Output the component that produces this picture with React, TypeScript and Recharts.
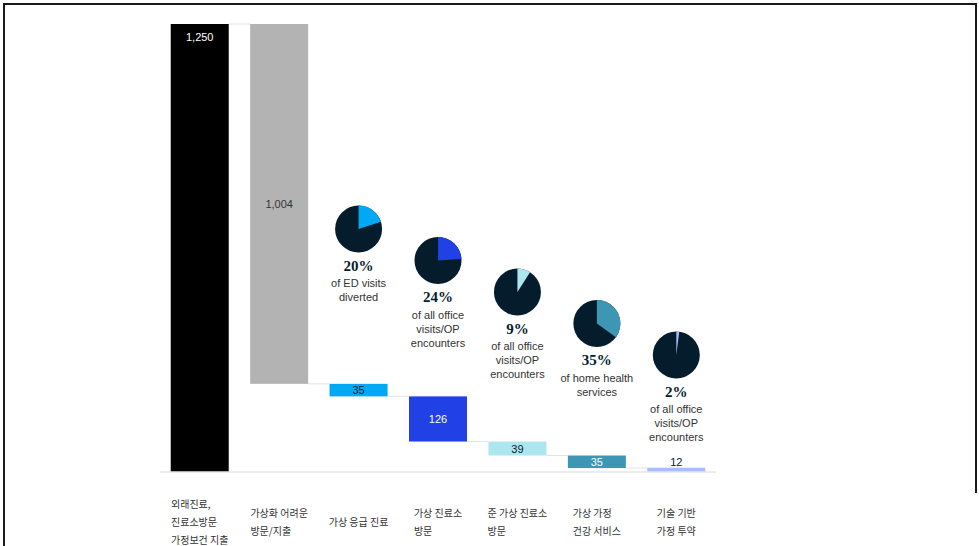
import React from 'react';
import { ComposedChart, Bar, XAxis, YAxis, Cell, LabelList, Sector } from 'recharts';

const categories: string[][] = [
  ['외래진료,', '진료소방문', '가정보건 지출'],
  ['가상화 어려운', '방문/지출'],
  ['가상 응급 진료'],
  ['가상 진료소', '방문'],
  ['준 가상 진료소', '방문'],
  ['가상 가정', '건강 서비스'],
  ['기술 기반', '가정 투약'],
];
const values = [1250, 1004, 35, 126, 39, 35, 12];
const barColors = ['#000000', '#b3b3b3', '#00a9f4', '#2140e6', '#aee6f0', '#3c96b4', '#aabdff'];
const labelColors = ['#ffffff', '#333333', '#051c2c', '#ffffff', '#051c2c', '#ffffff', '#051c2c'];
const pieShares: (number | null)[] = [null, null, 20, 24, 9, 35, 2];
const pieCaptions: string[][] = [
  [],
  [],
  ['of ED visits', 'diverted'],
  ['of all office', 'visits/OP', 'encounters'],
  ['of all office', 'visits/OP', 'encounters'],
  ['of home health', 'services'],
  ['of all office', 'visits/OP', 'encounters'],
];
const PIE_DARK = '#051c2c';

// build waterfall table
const data = (() => {
  const rows: any[] = [];
  let level = 0;
  values.forEach((v, i) => {
    let base = 0;
    if (i === 0) {
      base = 0;
      level = v;
    } else if (i === 1) {
      base = values[0] - v;
      level = base;
    } else {
      base = Math.max(0, level - v);
      level = base;
    }
    rows.push({ name: categories[i].join(' '), idx: i, base, value: v });
  });
  return rows;
})();

let measureCtx: CanvasRenderingContext2D | null = null;
const measure = (t: string, font: string) => {
  if (!measureCtx) {
    const c = document.createElement('canvas');
    measureCtx = c.getContext('2d');
  }
  if (!measureCtx) return t.length * 9;
  measureCtx.font = font;
  return measureCtx.measureText(t).width;
};

const TICK_FONT = '10px "Noto Sans CJK KR"';
const CategoryTick = (props: any) => {
  const { x, y, payload } = props;
  const lines = categories[payload.index] || [];
  const w = Math.max(...lines.map((l) => measure(l, TICK_FONT)));
  const lh = 18;
  const cy = y + 41;
  const startY = cy - ((lines.length - 1) * lh) / 2;
  return (
    <g>
      {lines.map((l, i) => (
        <text
          key={i}
          x={x - w / 2}
          y={startY + i * lh}
          textAnchor="start"
          dominantBaseline="central"
          fontSize={10}
          fontFamily='"Noto Sans CJK KR", sans-serif'
          fill="#333"
        >
          {l}
        </text>
      ))}
    </g>
  );
};

const BarShape = (props: any) => {
  const { x, y, width, height, index } = props;
  const last = index === values.length - 1;
  const lvl = index === 0 ? y : y + height;
  const gap = width * 0.37;
  return (
    <g>
      {!last && (
        <line x1={x + width} x2={x + width + gap} y1={lvl} y2={lvl} stroke="#e3e3e3" strokeWidth={1} />
      )}
      <rect x={x} y={y} width={width} height={height} fill={barColors[index]} />
    </g>
  );
};

const ValueLabel = (props: any) => {
  const { x, y, width, height, index, value } = props;
  const cx = x + width / 2;
  let ty = y + height / 2;
  if (index === 0) ty = y + 13;
  if (index === values.length - 1) ty = y - 6;
  return (
    <text
      x={cx}
      y={ty}
      textAnchor="middle"
      dominantBaseline="central"
      fontSize={11}
      fontFamily='"Liberation Sans", Arial, sans-serif'
      fill={labelColors[index]}
    >
      {Number(value).toLocaleString('en-US')}
    </text>
  );
};

const PieLabel = (props: any) => {
  const { x, width, index } = props;
  const share = pieShares[index];
  if (share == null) return null;
  const cx = x + width / 2;
  const cy = 229 + (index - 2) * 31.5;
  const r = 23.5;
  const caps = pieCaptions[index];
  return (
    <g>
      <circle cx={cx} cy={cy} r={r} fill={PIE_DARK} />
      <Sector
        cx={cx}
        cy={cy}
        innerRadius={0}
        outerRadius={r}
        startAngle={90}
        endAngle={90 - share * 3.6}
        fill={barColors[index]}
      />
      <text
        x={cx}
        y={cy + 36.5}
        textAnchor="middle"
        dominantBaseline="central"
        fontSize={15}
        fontWeight={700}
        fontFamily='"Liberation Serif", "DejaVu Serif", serif'
        fill="#051c2c"
      >
        {share}%
      </text>
      {caps.map((c, i) => (
        <text
          key={i}
          x={cx}
          y={cy + 54 + i * 14}
          textAnchor="middle"
          dominantBaseline="central"
          fontSize={11}
          fontFamily='"Liberation Sans", Arial, sans-serif'
          fill="#333"
        >
          {c}
        </text>
      ))}
    </g>
  );
};

export default function App() {
  return (
    <div style={{ position: 'absolute', left: 0, top: 0, width: 979, height: 546, background: '#fff', overflow: 'hidden' }}>
      <div style={{ position: 'absolute', left: 3, top: 3, width: 973, height: 2, background: '#1a1a1a' }} />
      <div style={{ position: 'absolute', left: 3, top: 3, width: 2, height: 543, background: '#1a1a1a' }} />
      <div style={{ position: 'absolute', left: 975, top: 3, width: 2, height: 490, background: '#1a1a1a' }} />
      <div style={{ position: 'absolute', left: 0, top: 0 }}>
        <ComposedChart
          width={979}
          height={546}
          data={data}
          margin={{ top: 24, right: 263, bottom: 0, left: 160 }}
          barCategoryGap="13.5%"
        >
          <XAxis
            dataKey="name"
            height={74}
            interval={0}
            tickLine={false}
            axisLine={{ stroke: '#e6e6e6', strokeWidth: 1.5 }}
            tick={<CategoryTick />}
          />
          <YAxis hide domain={[0, 1250]} />
          <Bar dataKey="base" stackId="w" fill="transparent" isAnimationActive={false} />
          <Bar dataKey="value" stackId="w" isAnimationActive={false} shape={<BarShape />}>
            {data.map((d, i) => (
              <Cell key={i} fill={barColors[i]} />
            ))}
            <LabelList dataKey="value" content={<ValueLabel />} />
            <LabelList dataKey="value" content={<PieLabel />} />
          </Bar>
        </ComposedChart>
      </div>
    </div>
  );
}
